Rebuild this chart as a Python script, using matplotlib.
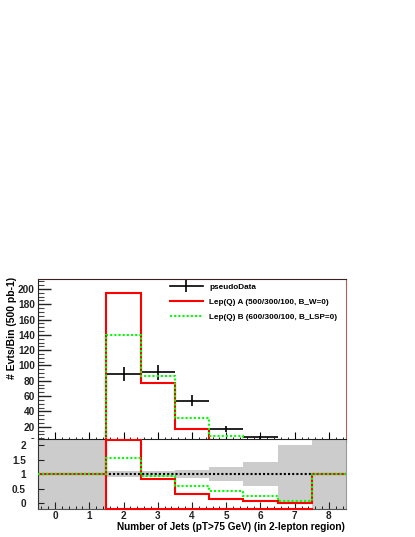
import numpy as np
import matplotlib
matplotlib.use('Agg')
import matplotlib.pyplot as plt
from matplotlib.ticker import MultipleLocator, FixedLocator
from matplotlib.patches import Rectangle
from matplotlib.lines import Line2D

plt.rcParams['font.family'] = ['Liberation Sans', 'DejaVu Sans']
plt.rcParams['font.weight'] = 'bold'

# number of jets bins 0..8
njets = np.arange(9)
data = np.array([0, 0, 89, 91, 54, 17, 6, 1, 0], dtype=float)
lepA = np.array([0, 0, 195, 77, 17, 2.8, 0.55, 0.03, 0])
lepB = np.array([0, 0, 140, 86, 32, 7.5, 1.6, 0.1, 0])
labels = ['pseudoData', 'Lep(Q) A (500/300/100, B_W=0)', 'Lep(Q) B (600/300/100, B_LSP=0)']

edges = np.arange(-0.5, 9.0, 1.0)
W, H = 415., 537.

def ratio(h, d) :
    r = np.ones_like(h)
    ok = d > 0
    r[ok] = h[ok] / d[ok]
    return r

fig = plt.figure(figsize=(W/100, H/100), dpi=100)
ax = fig.add_axes([38/W, 1-442/H, 308/W, 163/H], zorder=0)
rx = fig.add_axes([38/W, 1-509.3/H, 308/W, 70/H], zorder=2)

# ---- top pane
ok = data > 0
ax.errorbar(njets[ok], data[ok], xerr=0.5, yerr=np.sqrt(data[ok]), fmt='none',
            ecolor='black', elinewidth=1.2, capsize=0, zorder=3)
ax.stairs(lepA, edges, color='#ff0000', linewidth=1.5, baseline=None, zorder=4)
ax.stairs(lepB, edges, color='#00ff00', linewidth=1.5, linestyle=(0, (1, 1)), baseline=None, zorder=5)

ax.set_xlim(-0.5, 8.5)
ax.set_ylim(0, 213)
ax.yaxis.set_major_locator(MultipleLocator(20))
ax.yaxis.set_minor_locator(MultipleLocator(5))
ax.xaxis.set_major_locator(MultipleLocator(1))
ax.xaxis.set_minor_locator(MultipleLocator(0.2))
ax.tick_params(axis='y', which='major', direction='in', length=9, width=1, pad=2.2, labelsize=7.3, colors='#222222')
ax.tick_params(axis='y', which='minor', direction='in', length=4.5, width=0.8, colors='#444444')
ax.tick_params(axis='x', which='major', direction='in', length=7, width=0.8, labelbottom=False)
ax.tick_params(axis='x', which='minor', direction='in', length=3.5, width=0.6)
for lab in ax.get_yticklabels() :
    lab.set_fontweight('bold')
ax.spines['top'].set_color('#3a2222')
ax.spines['right'].set_color('#b06060')
ax.spines['left'].set_color('#222222')

handles = [Line2D([], [], color='black', linewidth=1.2, marker='|', markersize=9, markeredgewidth=1.2),
           Line2D([], [], color='#ff0000', linewidth=1.5),
           Line2D([], [], color='#00ff00', linewidth=1.5, linestyle=(0, (1, 1)))]
leg = ax.legend(handles, labels, loc='upper left', bbox_to_anchor=(170/W, 1-283/H),
                bbox_transform=fig.transFigure, frameon=False, borderpad=0, borderaxespad=0,
                handlelength=4.0, handletextpad=0.78, labelspacing=0.9, numpoints=1,
                prop={'size': 5.9, 'weight': 'bold'})

# hide the top pane's cut "0" label under the ratio pad
fig.add_artist(Rectangle((0, 1-450/H), 38/W, (450-439.3)/H, transform=fig.transFigure,
                         facecolor='white', edgecolor='none', zorder=1))

# ---- ratio pane
rlo, rhi = -0.2, 2.2
err = np.where(data > 0, 1/np.sqrt(np.where(data > 0, data, 1)), 5.0)
rx.bar(njets, 2*err, bottom=1-err, width=1.0, color='#cccccc', linewidth=0, zorder=1)
rx.axhline(1, color='black', linewidth=1.5, linestyle=(0, (1, 1)), zorder=2)
rx.stairs(ratio(lepA, data), edges, color='#ff0000', linewidth=1.5, baseline=None, zorder=3)
rx.stairs(ratio(lepB, data), edges, color='#00ff00', linewidth=1.5, linestyle=(0, (1, 1)),
          baseline=None, zorder=4)
first, last = njets[ok][0], njets[ok][-1]
rx.plot([edges[first], edges[first], edges[last+1]], [rhi, rlo, rlo], color='#ff0000',
        linewidth=1.5, clip_on=False, zorder=3)

rx.set_xlim(-0.5, 8.5)
rx.set_ylim(rlo, rhi)
rx.xaxis.set_major_locator(MultipleLocator(1))
rx.xaxis.set_minor_locator(MultipleLocator(0.2))
rx.yaxis.set_major_locator(FixedLocator([0, 0.5, 1, 1.5, 2]))
rx.set_yticklabels(['0', '0.5', '1', '1.5', '2'])
rx.tick_params(axis='x', which='major', direction='in', length=5, width=0.8, pad=1.5, labelsize=7.2, colors='#222222')
rx.tick_params(axis='x', which='minor', direction='in', length=2.5, width=0.6)
rx.tick_params(axis='y', which='major', direction='in', length=4, width=0.8, pad=8.6, labelsize=7.2, colors='#222222')
for lab in rx.get_xticklabels() + rx.get_yticklabels() :
    lab.set_fontweight('bold')
rx.spines['right'].set_color('#999999')
rx.spines['top'].set_color('#222222')
rx.spines['left'].set_color('#333333')
rx.spines['bottom'].set_color('#555555')

fig.text(12/W, 1-277/H, '# Evts/Bin (500 pb-1)', rotation=90, ha='center', va='top',
         fontsize=7.5, fontweight='bold')
fig.text(345/W, 1-527/H, 'Number of Jets (pT>75 GeV) (in 2-lepton region)', ha='right',
         va='center', fontsize=7.2, fontweight='bold')

fig.savefig('out.png', dpi=100)
